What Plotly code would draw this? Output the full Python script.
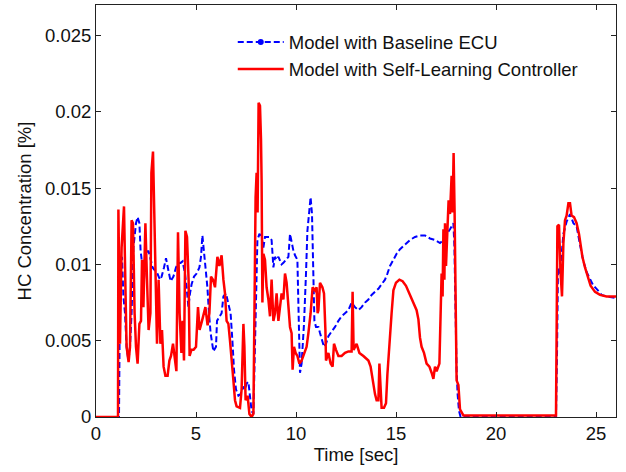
import plotly.graph_objects as go

# ---- data ----
t_slc = [0, 1.1, 1.12, 1.2, 1.28, 1.4, 1.48, 1.53, 1.63, 1.7, 1.78, 1.85, 1.93, 2.0, 2.08, 2.17, 2.25, 2.3, 2.37, 2.47,
         2.55, 2.63, 2.72, 2.77, 2.85, 2.92, 3.0, 3.05, 3.13, 3.22, 3.3, 3.38, 3.47, 3.58, 3.67, 3.75, 3.85, 3.93, 4.02, 4.1,
         4.18, 4.27, 4.33, 4.4, 4.47, 4.55, 4.63, 4.68, 4.77, 4.88, 5.0, 5.1, 5.18, 5.3, 5.38, 5.47, 5.58, 5.67, 5.75, 5.85,
         5.95, 6.07, 6.17, 6.28, 6.37, 6.45, 6.53, 6.62, 6.7, 6.78, 6.87, 6.95, 7.03, 7.2, 7.28, 7.37, 7.42, 7.48, 7.58, 7.67,
         7.78, 7.87, 7.92, 7.98, 8.03, 8.08, 8.13, 8.2, 8.25, 8.28, 8.32, 8.37, 8.45, 8.53, 8.62, 8.7, 8.78, 8.87, 8.95, 9.03,
         9.12, 9.2, 9.28, 9.37, 9.45, 9.53, 9.62, 9.7, 9.78, 9.83, 9.9, 9.98, 10.07, 10.17, 10.28, 10.42, 10.53, 10.62, 10.73, 10.83,
         10.95, 11.03, 11.08, 11.12, 11.2, 11.32, 11.4, 11.47, 11.5, 11.62, 11.73, 11.83, 11.9, 12.0, 12.12, 12.28, 12.45, 12.62, 12.78, 12.83,
         12.88, 13.03, 13.17, 13.37, 13.62, 13.73, 13.83, 13.95, 14.03, 14.12, 14.17, 14.23, 14.28, 14.4, 14.5, 14.57, 14.67, 14.78, 14.87, 15.0,
         15.17, 15.33, 15.5, 15.67, 15.83, 16.03, 16.12, 16.2, 16.28, 16.4, 16.53, 16.67, 16.78, 16.87, 16.95, 17.03, 17.17, 17.23, 17.28, 17.33,
         17.37, 17.42, 17.45, 17.5, 17.57, 17.63, 17.7, 17.75, 17.78, 17.83, 17.88, 17.93, 17.97, 18.03, 18.12, 18.2, 18.37, 23.0, 23.07, 23.15,
         23.23, 23.3, 23.37, 23.45, 23.53, 23.62, 23.7, 23.78, 23.9, 24.03, 24.15, 24.23, 24.32, 24.45, 24.62, 24.73, 24.95, 25.2, 25.53, 26.0]
hc_slc = [0, 0, 0.0136, 0.0048, 0.0111, 0.0138, 0.0079, 0.0046, 0.0036, 0.0046, 0.0129, 0.0127, 0.0068, 0.0046, 0.0035, 0.0061, 0.0063, 0.0103, 0.0072, 0.0127,
          0.009, 0.0057, 0.0068, 0.016, 0.0174, 0.0136, 0.009, 0.0048, 0.009, 0.0048, 0.0057, 0.0033, 0.0027, 0.0027, 0.0037, 0.004, 0.0048, 0.0039, 0.003, 0.0121,
          0.0068, 0.0042, 0.0063, 0.0037, 0.0122, 0.0118, 0.009, 0.004, 0.0044, 0.0044, 0.0046, 0.0072, 0.0057, 0.0063, 0.0068, 0.0072, 0.006, 0.0068, 0.0092, 0.009,
          0.0085, 0.0105, 0.0099, 0.0106, 0.009, 0.0081, 0.0063, 0.0061, 0.005, 0.0035, 0.0024, 0.0011, 0.0007, 0.0006, 0.0018, 0.0061, 0.0046, 0.0011, 0.0014, 0.0002,
          0.0, 0.0002, 0.0077, 0.0144, 0.016, 0.0134, 0.0206, 0.0204, 0.0182, 0.0155, 0.0075, 0.0107, 0.0103, 0.0085, 0.0077, 0.0066, 0.009, 0.0063, 0.0068, 0.0081,
          0.0063, 0.0072, 0.0081, 0.0077, 0.0094, 0.0088, 0.0072, 0.0059, 0.0055, 0.0031, 0.0046, 0.0042, 0.004, 0.0035, 0.0037, 0.0042, 0.0046, 0.0055, 0.0068, 0.0085,
          0.0083, 0.0085, 0.0068, 0.0070, 0.0088, 0.0085, 0.0081, 0.0057, 0.0037, 0.0042, 0.0035, 0.0033, 0.0048, 0.0044, 0.004, 0.004, 0.0042, 0.0043, 0.0043, 0.0082,
          0.0044, 0.0048, 0.0042, 0.004, 0.0037, 0.0033, 0.0024, 0.0015, 0.0011, 0.0011, 0.0035, 0.0011, 0.0006, 0.0006, 0.0009, 0.0028, 0.005, 0.0068, 0.0083, 0.0088,
          0.009, 0.0089, 0.0086, 0.0081, 0.0076, 0.007, 0.0064, 0.0052, 0.0046, 0.0042, 0.0035, 0.0033, 0.0029, 0.0025, 0.0033, 0.003, 0.0035, 0.0063, 0.0094, 0.0079,
          0.0123, 0.009, 0.0127, 0.0099, 0.0129, 0.0142, 0.0133, 0.0149, 0.0158, 0.0134, 0.0173, 0.0134, 0.0081, 0.0024, 0.0021, 0.0005, 0.0001, 0.0001, 0.0125, 0.0126,
          0.0094, 0.0079, 0.0114, 0.0129, 0.0132, 0.014, 0.014, 0.0132, 0.0131, 0.0127, 0.012, 0.0111, 0.0105, 0.0098, 0.009, 0.0086, 0.0082, 0.008, 0.0079, 0.0079]

t_ecu = [0, 1.15, 1.2, 1.3, 1.37, 1.45, 1.53, 1.62, 1.7, 1.78, 1.87, 2.0, 2.08, 2.17, 2.23, 2.32, 2.4, 2.5, 2.62, 2.7,
         2.83, 2.95, 3.07, 3.2, 3.28, 3.4, 3.5, 3.62, 3.73, 3.87, 4.0, 4.12, 4.23, 4.33, 4.45, 4.53, 4.62, 4.7, 4.78, 4.9,
         5.03, 5.17, 5.25, 5.32, 5.4, 5.48, 5.57, 5.65, 5.73, 5.87, 6.0, 6.05, 6.15, 6.28, 6.37, 6.5, 6.62, 6.73, 6.82, 6.9,
         7.0, 7.12, 7.23, 7.37, 7.45, 7.53, 7.62, 7.7, 7.78, 7.87, 7.95, 8.0, 8.07, 8.17, 8.28, 8.37, 8.45, 8.57, 8.67, 8.78,
         8.87, 8.95, 9.03, 9.12, 9.2, 9.28, 9.37, 9.5, 9.62, 9.7, 9.78, 9.87, 9.95, 10.07, 10.13, 10.2, 10.28, 10.4, 10.5, 10.57,
         10.65, 10.73, 10.8, 10.87, 10.92, 11.0, 11.12, 11.2, 11.3, 11.4, 11.5, 11.62, 11.78, 11.95, 12.12, 12.28, 12.45, 12.62, 12.78, 12.95,
         13.12, 13.28, 13.45, 13.62, 13.78, 13.95, 14.12, 14.28, 14.45, 14.57, 14.7, 14.87, 15.03, 15.2, 15.45, 15.7, 15.95, 16.2, 16.45, 16.7,
         16.95, 17.2, 17.37, 17.53, 17.7, 17.87, 17.92, 17.95, 17.98, 18.03, 18.08, 18.15, 18.23, 23.0, 23.05, 23.1, 23.2, 23.37, 23.53, 23.7,
         23.87, 24.03, 24.2, 24.37, 24.53, 24.7, 24.87, 25.03, 25.28, 25.53, 26.0]
hc_ecu = [0, 0, 0.0085, 0.0105, 0.0079, 0.0068, 0.0046, 0.0037, 0.0046, 0.0068, 0.0111, 0.0127, 0.0131, 0.0127, 0.0109, 0.0098, 0.009, 0.0107, 0.0109, 0.0105,
          0.0098, 0.0096, 0.0094, 0.009, 0.0092, 0.0098, 0.0104, 0.0096, 0.0089, 0.0092, 0.0098, 0.0101, 0.0101, 0.0102, 0.0094, 0.0085, 0.0072, 0.0081, 0.0087, 0.0092,
          0.0094, 0.0098, 0.0105, 0.0119, 0.0109, 0.0098, 0.0085, 0.0068, 0.0055, 0.0043, 0.0046, 0.0063, 0.0065, 0.0068, 0.0079, 0.0081, 0.0074, 0.0068, 0.005, 0.0031,
          0.0018, 0.0014, 0.0015, 0.002, 0.0018, 0.0022, 0.0023, 0.0015, 0.0004, 0.0002, 0.0046, 0.009, 0.0116, 0.012, 0.0118, 0.0111, 0.0118, 0.0118, 0.0118, 0.0116,
          0.0098, 0.0105, 0.0103, 0.0105, 0.0102, 0.01, 0.0101, 0.0103, 0.0105, 0.012, 0.0114, 0.0109, 0.0106, 0.0103, 0.0068, 0.0029, 0.0035, 0.0061, 0.0094, 0.0122,
          0.0133, 0.0144, 0.0133, 0.009, 0.0063, 0.0059, 0.0059, 0.0055, 0.005, 0.0046, 0.0048, 0.0053, 0.0056, 0.0059, 0.0063, 0.0066, 0.0068, 0.007, 0.0075, 0.0072,
          0.007, 0.0072, 0.0075, 0.0077, 0.008, 0.0082, 0.0084, 0.0087, 0.009, 0.0094, 0.0099, 0.0103, 0.0107, 0.011, 0.0113, 0.0116, 0.0118, 0.0119, 0.0119, 0.0117,
          0.0116, 0.0114, 0.0116, 0.012, 0.0123, 0.0127, 0.0112, 0.009, 0.0057, 0.0031, 0.0015, 0.0004, 0.0, 0.0, 0.004, 0.0098, 0.0094, 0.012, 0.0128, 0.0133,
          0.0127, 0.0125, 0.0113, 0.0102, 0.0095, 0.0091, 0.0086, 0.0084, 0.008, 0.0079, 0.0078]

x_ticks = [0, 5, 10, 15, 20, 25]
y_ticks = [0, 0.005, 0.01, 0.015, 0.02, 0.025]
y_tick_text = ["0", "0.005", "0.01", "0.015", "0.02", "0.025"]
names = ["Model with Baseline ECU", "Model with Self-Learning Controller"]

FONT = "Liberation Sans, Arial, sans-serif"
BLUE = "#0000ff"
RED = "#ff0000"

fig = go.Figure()
# baseline ECU (blue dashed); legend entry drawn by a legend-only trace with marker
fig.add_trace(go.Scatter(x=t_ecu, y=hc_ecu, mode="lines", showlegend=False,
                         line=dict(color=BLUE, width=2, dash="6px,3px")))
fig.add_trace(go.Scatter(x=[None], y=[None], mode="lines+markers", name=names[0],
                         line=dict(color=BLUE, width=2, dash="6px,3px"),
                         marker=dict(color=BLUE, size=6)))
fig.add_trace(go.Scatter(x=t_slc, y=hc_slc, mode="lines", name=names[1],
                         line=dict(color=RED, width=2.5)))

axis_common = dict(showgrid=False, zeroline=False, showline=True, linecolor="#222222", linewidth=1,
                   mirror="ticks", ticks="inside", ticklen=5, tickcolor="#222222",
                   tickfont=dict(family=FONT, size=18.5, color="#111111"))

fig.update_layout(
    width=626, height=472,
    margin=dict(l=96, r=10, t=5, b=55),
    paper_bgcolor="white", plot_bgcolor="white",
    font=dict(family=FONT, size=18.5, color="#111111"),
    xaxis=dict(range=[0, 26], tickvals=x_ticks, ticktext=[str(v) for v in x_ticks],
               title=dict(text="Time [sec]", standoff=4, font=dict(family=FONT, size=18.5)), **axis_common),
    yaxis=dict(range=[0, 0.027], tickvals=y_ticks, ticktext=y_tick_text,
               title=dict(text="HC Concentration [%]", standoff=8, font=dict(family=FONT, size=18.5)), **axis_common),
    legend=dict(x=0.263, y=0.955, xanchor="left", yanchor="top", bgcolor="rgba(0,0,0,0)",
                borderwidth=0, itemwidth=46, tracegroupgap=0,
                font=dict(family=FONT, size=18.5, color="#111111")),
)

fig.write_html("out.html")
